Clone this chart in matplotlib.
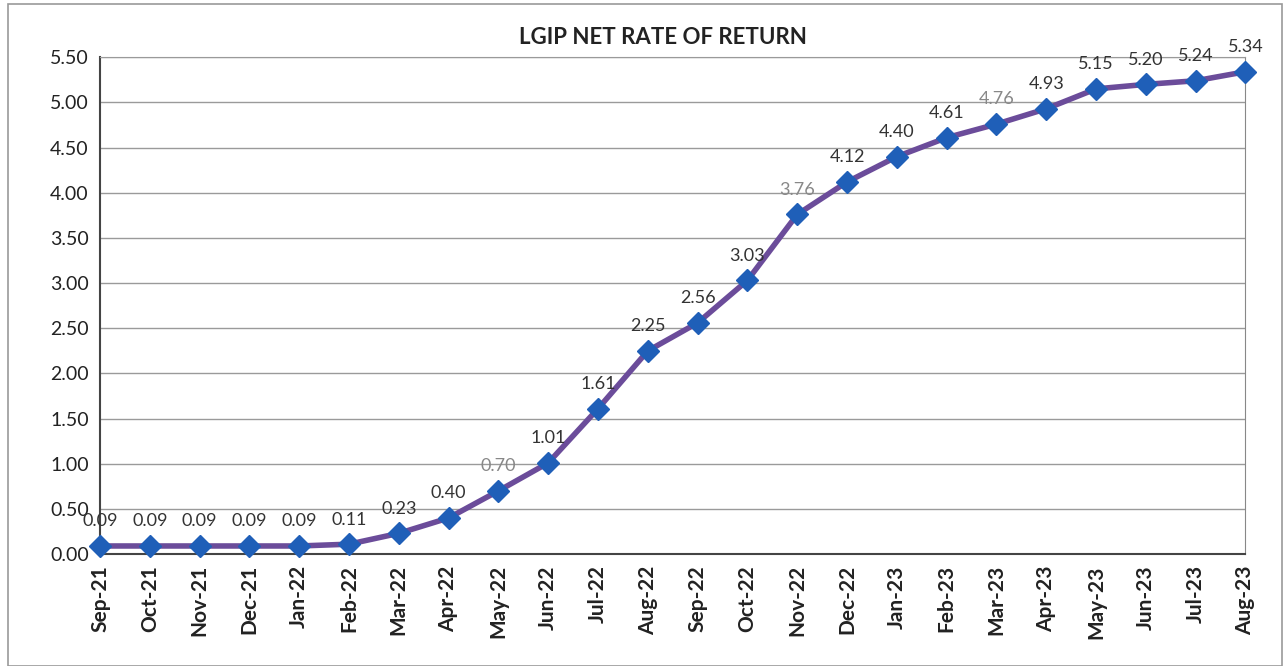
import matplotlib
matplotlib.use('Agg')
import matplotlib.pyplot as plt
from matplotlib.patches import Rectangle

# Monthly LGIP net rate of return (%)
months = ['Sep-21', 'Oct-21', 'Nov-21', 'Dec-21', 'Jan-22', 'Feb-22', 'Mar-22', 'Apr-22',
          'May-22', 'Jun-22', 'Jul-22', 'Aug-22', 'Sep-22', 'Oct-22', 'Nov-22', 'Dec-22',
          'Jan-23', 'Feb-23', 'Mar-23', 'Apr-23', 'May-23', 'Jun-23', 'Jul-23', 'Aug-23']
rates = [0.09, 0.09, 0.09, 0.09, 0.09, 0.11, 0.23, 0.40, 0.70, 1.01, 1.61, 2.25,
         2.56, 3.03, 3.76, 4.12, 4.40, 4.61, 4.76, 4.93, 5.15, 5.20, 5.24, 5.34]
y_ticks = [0.0, 0.5, 1.0, 1.5, 2.0, 2.5, 3.0, 3.5, 4.0, 4.5, 5.0, 5.5]

plt.rcParams['font.family'] = ['Lato', 'DejaVu Sans']

fig = plt.figure(figsize=(12.87, 6.66), dpi=100)
ax = fig.add_axes([0.0777, 0.168, 0.890, 0.746])

x = list(range(len(months)))
ax.plot(x, rates, color='#6b4c9a', linewidth=4, zorder=3)
ax.plot(x, rates, linestyle='none', marker='D', markersize=11,
        color='#1f5fb8', zorder=4, clip_on=False)

light = {'May-22', 'Nov-22', 'Mar-23'}
for i, (m, v) in enumerate(zip(months, rates)):
    ax.annotate(f'{v:.2f}', (i, v), xytext=(0, 12), textcoords='offset points',
                ha='center', va='bottom', fontsize=13,
                color='#888888' if m in light else '#333333', zorder=5,
                annotation_clip=False)

ax.set_xlim(0, len(months) - 1)
ax.set_ylim(0, 5.5)
ax.set_yticks(y_ticks)
ax.set_yticklabels([f'{t:.2f}' for t in y_ticks], fontsize=14, color='#222222')
ax.set_xticks(x)
ax.set_xticklabels(months, rotation=90, fontsize=15, fontweight='bold', color='#222222')
ax.tick_params(axis='both', length=0, pad=8)
ax.grid(axis='y', color='#9a9a9a', linewidth=1)
ax.set_axisbelow(True)
for side in ['left', 'bottom']:
    ax.spines[side].set_color('#444444')
    ax.spines[side].set_linewidth(1.5)
ax.spines['right'].set_color('#888888')
ax.spines['top'].set_color('#9a9a9a')

fig.text(0.515, 0.944, 'LGIP NET RATE OF RETURN', ha='center', va='center',
         fontsize=16, fontweight='bold', color='#222222')

fig.patches.append(Rectangle((0.006, 0.0), 0.99, 0.994, transform=fig.transFigure,
                             fill=False, edgecolor='#999999', linewidth=1.2))

fig.savefig('out.png', dpi=100)
